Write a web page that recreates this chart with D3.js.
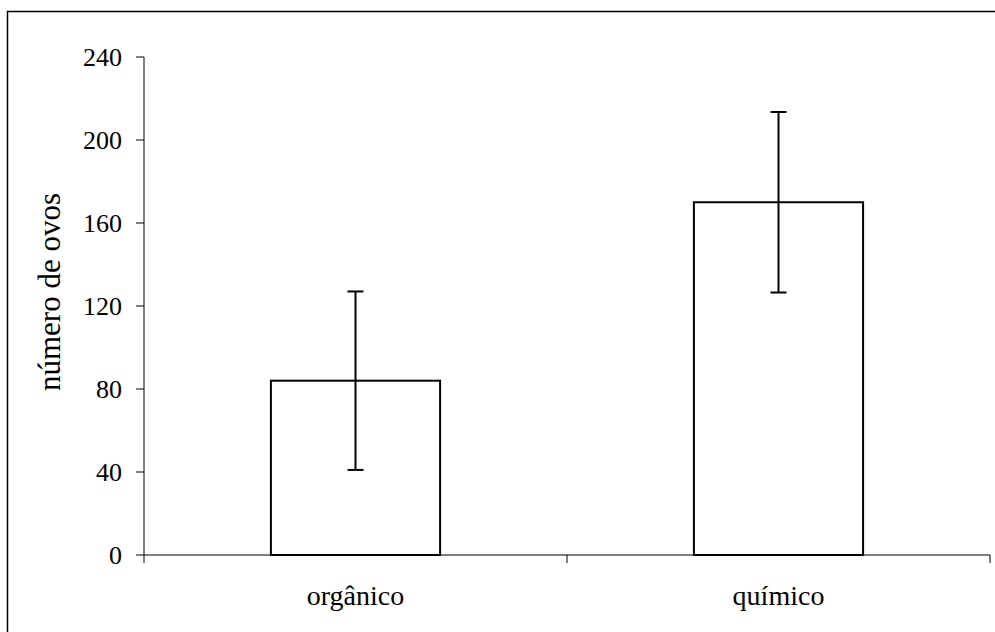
<!DOCTYPE html>
<meta charset="utf-8">
<html>
<head>
  <style>
    body { margin: 0; background: #fff; }
    svg { display: block; }
    text { font-family: "Liberation Serif", "Times New Roman", serif; fill: #000; }
  </style>
</head>
<body>
<svg width="995" height="632"></svg>
<script src="https://d3js.org/d3.v7.min.js"></script>
<script>
  const categories = ["orgânico", "químico"];
  const means = [84, 170];
  const errors = [43, 43.5];
  const yTicks = [0, 40, 80, 120, 160, 200, 240];
  const yTitle = "número de ovos";

  const svg = d3.select("svg");

  // outer frame (right/bottom fall outside the picture)
  svg.append("rect")
    .attr("x", 7.5).attr("y", 11.5)
    .attr("width", 1100).attr("height", 800)
    .attr("fill", "none").attr("stroke", "#000").attr("stroke-width", 1.5);

  const x = d3.scaleBand()
    .domain(categories)
    .range([144, 990])
    .paddingInner(0.6)
    .paddingOuter(0.3);

  const y = d3.scaleLinear()
    .domain([0, 240])
    .range([555, 57]);

  // y axis
  const yAxis = svg.append("g").attr("transform", "translate(144,0)");
  yAxis.append("line")
    .attr("x1", 0).attr("x2", 0)
    .attr("y1", y(0)).attr("y2", y(240))
    .attr("stroke", "#000");
  const yt = yAxis.selectAll("g.tick").data(yTicks).enter().append("g")
    .attr("transform", d => `translate(0,${y(d)})`);
  yt.append("line").attr("x1", -8).attr("x2", 0).attr("stroke", "#000");
  yt.append("text")
    .attr("x", -22).attr("dy", "0.34em")
    .attr("text-anchor", "end")
    .style("font-size", "26px")
    .text(d => d);

  // x axis
  const xAxis = svg.append("g");
  xAxis.append("line")
    .attr("x1", 144).attr("x2", 990)
    .attr("y1", y(0)).attr("y2", y(0))
    .attr("stroke", "#000");
  const bounds = [144, 144 + (990 - 144) / 2, 990];
  xAxis.selectAll("line.tk").data(bounds).enter().append("line")
    .attr("class", "tk")
    .attr("x1", d => d).attr("x2", d => d)
    .attr("y1", y(0)).attr("y2", y(0) + 8)
    .attr("stroke", "#000");
  xAxis.selectAll("text").data(categories).enter().append("text")
    .attr("x", d => x(d) + x.bandwidth() / 2)
    .attr("y", 605)
    .attr("text-anchor", "middle")
    .style("font-size", "28px")
    .text(d => d);

  // bars
  svg.selectAll("rect.bar").data(categories).enter().append("rect")
    .attr("class", "bar")
    .attr("x", d => x(d))
    .attr("width", x.bandwidth())
    .attr("y", (d, i) => y(means[i]))
    .attr("height", (d, i) => y(0) - y(means[i]))
    .attr("fill", "#fff")
    .attr("stroke", "#000")
    .attr("stroke-width", 2);

  // error bars
  const eb = svg.selectAll("g.err").data(categories).enter().append("g")
    .attr("transform", d => `translate(${x(d) + x.bandwidth() / 2},0)`);
  eb.append("line")
    .attr("y1", (d, i) => y(means[i] + errors[i]))
    .attr("y2", (d, i) => y(means[i] - errors[i]))
    .attr("stroke", "#000").attr("stroke-width", 2);
  eb.append("line")
    .attr("x1", -8).attr("x2", 8)
    .attr("y1", (d, i) => y(means[i] + errors[i]))
    .attr("y2", (d, i) => y(means[i] + errors[i]))
    .attr("stroke", "#000").attr("stroke-width", 2);
  eb.append("line")
    .attr("x1", -8).attr("x2", 8)
    .attr("y1", (d, i) => y(means[i] - errors[i]))
    .attr("y2", (d, i) => y(means[i] - errors[i]))
    .attr("stroke", "#000").attr("stroke-width", 2);

  // y title
  svg.append("text")
    .attr("transform", "translate(60,292) rotate(-90)")
    .attr("text-anchor", "middle")
    .style("font-size", "31px")
    .text(yTitle);
</script>
</body>
</html>
